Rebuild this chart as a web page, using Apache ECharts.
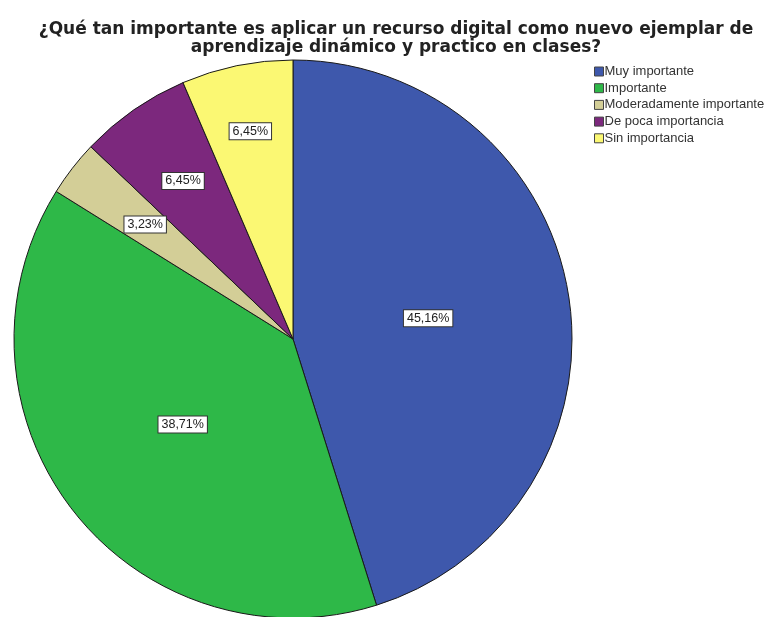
<!DOCTYPE html>
<html>
<head>
<meta charset="utf-8">
<script src="https://cdn.jsdelivr.net/npm/echarts@6/dist/echarts.min.js"></script>
<style>
  html, body { margin: 0; padding: 0; background: #ffffff; }
  #chart { width: 769px; height: 617px; }
</style>
</head>
<body>
<div id="chart"></div>
<script>
// Survey answers and their share of respondents (%)
const categories = [
  'Muy importante',
  'Importante',
  'Moderadamente importante',
  'De poca importancia',
  'Sin importancia'
];
const percentages = [45.16, 38.71, 3.23, 6.45, 6.45];

const titleText = '¿Qué tan importante es aplicar un recurso digital como nuevo ejemplar de\naprendizaje dinámico y practico en clases?';

// Styling
const sliceColors = ['#3E58AC', '#2EB848', '#D3CE97', '#7C287D', '#FBF873'];
const pieCenter = [293, 339];
const pieRadius = 279;
// how far out along each slice's bisector its value box sits (share of radius)
const labelReach = [0.49, 0.50, 0.67, 0.69, 0.76];

const total = percentages.reduce((a, b) => a + b, 0);
const midAngles = [];
let acc = 0;
percentages.forEach(v => {
  midAngles.push((acc + v / 2) / total * 2 * Math.PI);
  acc += v;
});

const chart = echarts.init(document.getElementById('chart'), null, { renderer: 'canvas' });

chart.setOption({
  backgroundColor: '#ffffff',
  animation: false,
  color: sliceColors,
  title: {
    text: titleText,
    left: 391,
    top: 16,
    textAlign: 'center',
    textStyle: {
      fontFamily: 'DejaVu Sans',
      fontSize: 17,
      fontWeight: 'bold',
      color: '#222222',
      lineHeight: 17.5
    }
  },
  legend: {
    orient: 'vertical',
    left: 589,
    top: 60,
    itemWidth: 9,
    itemHeight: 9,
    itemGap: 3.7,
    icon: 'rect',
    data: categories,
    itemStyle: { borderColor: '#444444', borderWidth: 1 },
    textStyle: {
      fontFamily: 'Liberation Sans',
      fontSize: 13,
      lineHeight: 12,
      color: '#333333',
      padding: [0, 0, 0, -4]
    }
  },
  series: [{
    type: 'pie',
    center: pieCenter,
    radius: pieRadius,
    startAngle: 90,
    clockwise: true,
    avoidLabelOverlap: false,
    data: categories.map((name, i) => ({ name: name, value: percentages[i] })),
    itemStyle: {
      borderColor: '#1a1a1a',
      borderWidth: 1
    },
    emphasis: { disabled: true },
    label: {
      show: true,
      position: 'inside',
      formatter: p => p.value.toFixed(2).replace('.', ',') + '%',
      fontFamily: 'Liberation Sans',
      fontSize: 12.5,
      color: '#222222',
      backgroundColor: '#ffffff',
      borderColor: '#333333',
      borderWidth: 1,
      padding: [2, 3, 1, 3]
    },
    labelLine: { show: false },
    labelLayout: params => {
      const i = params.dataIndex;
      const r = pieRadius * labelReach[i];
      return {
        x: pieCenter[0] + r * Math.sin(midAngles[i]),
        y: pieCenter[1] - r * Math.cos(midAngles[i]),
        align: 'center',
        verticalAlign: 'middle'
      };
    }
  }]
});
</script>
</body>
</html>
